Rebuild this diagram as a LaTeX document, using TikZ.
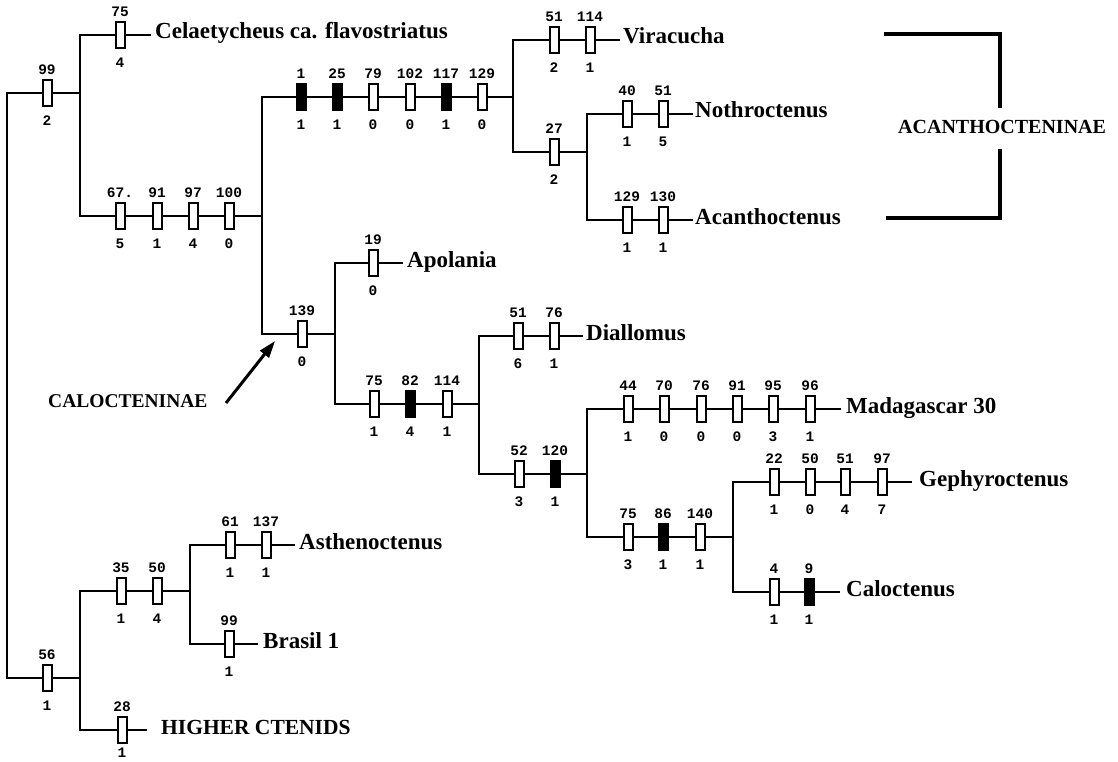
\documentclass[tikz,border=0pt]{standalone}
\usepackage{fontspec}
\setmainfont{Liberation Serif}
\newfontfamily\monof{Liberation Mono}
\usetikzlibrary{arrows.meta}
\tikzset{
  br/.style={line width=2.7pt, line join=miter},
  chr/.style={draw, line width=2pt, fill=white, minimum width=9pt, minimum height=26pt, inner sep=0pt, outer sep=0pt},
  chrf/.style={chr, fill=black},
  num/.style={font=\monof\bfseries\fontsize{14.5}{14.5}\selectfont, inner sep=0pt},
  taxon/.style={anchor=base west, font=\bfseries\fontsize{23}{23}\selectfont, inner sep=0pt},
  grp/.style={anchor=base west, font=\bfseries\fontsize{20}{20}\selectfont, inner sep=0pt},
  brk/.style={line width=3.6pt, line join=miter},
  arr/.style={line width=3pt, -{Triangle[length=17pt,width=11pt]}},
}
\newcommand\chbox[7][28]{%
  \node[#7] (#2) at (#3,#4) {};
  \node[num] (#2t) at (#3,#4-23) {#5};
  \node[num] (#2b) at (#3,#4+#1) {#6};}
\begin{document}
\begin{tikzpicture}[x=1pt,y=-1pt]
\useasboundingbox (0,0) rectangle (1118,762);
% tree coordinates
\coordinate (rt) at (7,0);
\coordinate (A) at (80,93);
\coordinate (H) at (80,678);
\coordinate (Lcel) at (151,35);
\coordinate (B) at (262,216);
\coordinate (C) at (513,97);
\coordinate (D) at (335,334);
\coordinate (Lvir) at (620,40);
\coordinate (E) at (587,152);
\coordinate (Lnot) at (693,114);
\coordinate (Laca) at (693,220);
\coordinate (Lapo) at (403,263);
\coordinate (F) at (479,404);
\coordinate (Ldia) at (583,336);
\coordinate (G) at (587,474);
\coordinate (Lmad) at (841,409);
\coordinate (K) at (733,537);
\coordinate (Lgep) at (912,482);
\coordinate (Lcal) at (840,592);
\coordinate (I) at (190,591);
\coordinate (Lhig) at (147,730);
\coordinate (Last) at (295,545);
\coordinate (Lbra) at (258,644);
% branches
\draw[br] (A) -- (A -| rt) -- (H -| rt) -- (H);
\draw[br] (Lcel) -- (Lcel -| A) -- (B -| A) -- (B);
\draw[br] (C) -- (C -| B) -- (D -| B) -- (D);
\draw[br] (Lvir) -- (Lvir -| C) -- (E -| C) -- (E);
\draw[br] (Lnot) -- (Lnot -| E) -- (Laca -| E) -- (Laca);
\draw[br] (Lapo) -- (Lapo -| D) -- (F -| D) -- (F);
\draw[br] (Ldia) -- (Ldia -| F) -- (G -| F) -- (G);
\draw[br] (Lmad) -- (Lmad -| G) -- (K -| G) -- (K);
\draw[br] (Lgep) -- (Lgep -| K) -- (Lcal -| K) -- (Lcal);
\draw[br] (I) -- (I -| H) -- (Lhig -| H) -- (Lhig);
\draw[br] (Last) -- (Last -| I) -- (Lbra -| I) -- (Lbra);
% character boxes
\chbox{a1}{47}{93}{99}{2}{chr}
\chbox{c1}{120}{35}{75}{4}{chr}
\chbox{b1}{120}{216}{67.}{5}{chr}
\chbox{b2}{157}{216}{91}{1}{chr}
\chbox{b3}{193}{216}{97}{4}{chr}
\chbox{b4}{229}{216}{100}{0}{chr}
\chbox{k1}{301}{97}{1}{1}{chrf}
\chbox{k2}{337}{97}{25}{1}{chrf}
\chbox{k3}{373}{97}{79}{0}{chr}
\chbox{k4}{410}{97}{102}{0}{chr}
\chbox{k5}{446}{97}{117}{1}{chrf}
\chbox{k6}{482}{97}{129}{0}{chr}
\chbox{v1}{554}{40}{51}{2}{chr}
\chbox{v2}{590}{40}{114}{1}{chr}
\chbox{e1}{554}{152}{27}{2}{chr}
\chbox{n1}{627}{114}{40}{1}{chr}
\chbox{n2}{663}{114}{51}{5}{chr}
\chbox{q1}{627}{220}{129}{1}{chr}
\chbox{q2}{663}{220}{130}{1}{chr}
\chbox{d1}{302}{334}{139}{0}{chr}
\chbox{p1}{373}{263}{19}{0}{chr}
\chbox{f1}{374}{404}{75}{1}{chr}
\chbox{f2}{410}{404}{82}{4}{chrf}
\chbox{f3}{447}{404}{114}{1}{chr}
\chbox{i1}{518}{336}{51}{6}{chr}
\chbox{i2}{554}{336}{76}{1}{chr}
\chbox{g1}{519}{474}{52}{3}{chr}
\chbox{g2}{555}{474}{120}{1}{chrf}
\chbox{m1}{628}{409}{44}{1}{chr}
\chbox{m2}{664}{409}{70}{0}{chr}
\chbox{m3}{701}{409}{76}{0}{chr}
\chbox{m4}{737}{409}{91}{0}{chr}
\chbox{m5}{773}{409}{95}{3}{chr}
\chbox{m6}{810}{409}{96}{1}{chr}
\chbox{h1}{628}{537}{75}{3}{chr}
\chbox{h2}{663}{537}{86}{1}{chrf}
\chbox{h3}{700}{537}{140}{1}{chr}
\chbox{y1}{774}{482}{22}{1}{chr}
\chbox{y2}{810}{482}{50}{0}{chr}
\chbox{y3}{845}{482}{51}{4}{chr}
\chbox{y4}{882}{482}{97}{7}{chr}
\chbox{z1}{774}{592}{4}{1}{chr}
\chbox{z2}{809}{592}{9}{1}{chrf}
\chbox{o1}{47}{678}{56}{1}{chr}
\chbox{j1}{121}{591}{35}{1}{chr}
\chbox{j2}{157}{591}{50}{4}{chr}
\chbox{s1}{230}{545}{61}{1}{chr}
\chbox{s2}{266}{545}{137}{1}{chr}
\chbox{r1}{229}{644}{99}{1}{chr}
\chbox[23]{w1}{122}{730}{28}{1}{chr}
% taxon labels
\node[taxon] (tcel) at (155,39) {Celaetycheus ca. flavostriatus};
\node[taxon] (tvir) at (623,44) {Viracucha};
\node[taxon] (tnot) at (695,118) {Nothroctenus};
\node[taxon] (taca) at (695,224) {Acanthoctenus};
\node[taxon] (tapo) at (407,267) {Apolania};
\node[taxon] (tdia) at (586,340) {Diallomus};
\node[taxon] (tmad) at (846,413) {Madagascar 30};
\node[taxon] (tgep) at (919,486) {Gephyroctenus};
\node[taxon] (tcal) at (846,596) {Caloctenus};
\node[taxon] (tast) at (299,549) {Asthenoctenus};
\node[taxon] (tbra) at (263,648) {Brasil 1};
\node[taxon, font=\bfseries\fontsize{21.5}{21.5}\selectfont] (thig) at (161,734) {HIGHER CTENIDS};
% groups
\node[grp] (acan) at (898,134) {ACANTHOCTENINAE};
\coordinate (bx) at (1000,0);
\coordinate (bt) at (884,34);
\coordinate (bb) at (886,218);
\draw[brk] (bt) -- (bt -| bx) -- (1000,108);
\draw[brk] (1000,149) -- (bb -| bx) -- (bb);
\node[grp, font=\bfseries\fontsize{19.5}{19.5}\selectfont] (calo) at (48,407) {CALOCTENINAE};
\coordinate (arT) at (226,403);
\coordinate (arH) at (275,341);
\draw[arr] (arT) -- (arH);
\end{tikzpicture}
\end{document}
